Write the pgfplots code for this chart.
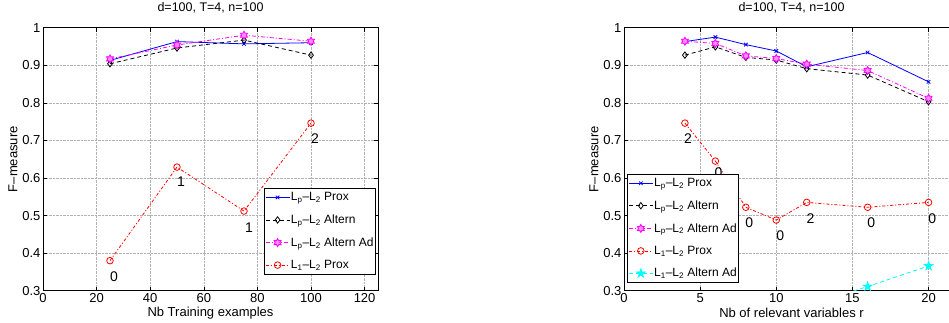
\documentclass[border=0pt]{standalone}
\usepackage{pgfplots}
\pgfplotsset{compat=1.18}
\usepackage{fontspec}
\setmainfont{Liberation Sans}
\usetikzlibrary{plotmarks}
\definecolor{mcyan}{rgb}{0,1,1}
\definecolor{mmag}{rgb}{1,0,1}
\definecolor{mblue}{rgb}{0,0,1}
\definecolor{mred}{rgb}{1,0,0}

\pgfdeclareplotmark{hexagram}{%
 \pgfpathmoveto{\pgfpointpolar{90}{\pgfplotmarksize}}%
 \pgfpathlineto{\pgfpointpolar{120}{0.577\pgfplotmarksize}}%
 \pgfpathlineto{\pgfpointpolar{150}{\pgfplotmarksize}}%
 \pgfpathlineto{\pgfpointpolar{180}{0.577\pgfplotmarksize}}%
 \pgfpathlineto{\pgfpointpolar{210}{\pgfplotmarksize}}%
 \pgfpathlineto{\pgfpointpolar{240}{0.577\pgfplotmarksize}}%
 \pgfpathlineto{\pgfpointpolar{270}{\pgfplotmarksize}}%
 \pgfpathlineto{\pgfpointpolar{300}{0.577\pgfplotmarksize}}%
 \pgfpathlineto{\pgfpointpolar{330}{\pgfplotmarksize}}%
 \pgfpathlineto{\pgfpointpolar{0}{0.577\pgfplotmarksize}}%
 \pgfpathlineto{\pgfpointpolar{30}{\pgfplotmarksize}}%
 \pgfpathlineto{\pgfpointpolar{60}{0.577\pgfplotmarksize}}%
 \pgfpathclose\pgfusepathqfillstroke}
\pgfdeclareplotmark{pentagram}{%
 \pgfpathmoveto{\pgfpointpolar{90}{\pgfplotmarksize}}%
 \pgfpathlineto{\pgfpointpolar{126}{0.382\pgfplotmarksize}}%
 \pgfpathlineto{\pgfpointpolar{162}{\pgfplotmarksize}}%
 \pgfpathlineto{\pgfpointpolar{198}{0.382\pgfplotmarksize}}%
 \pgfpathlineto{\pgfpointpolar{234}{\pgfplotmarksize}}%
 \pgfpathlineto{\pgfpointpolar{270}{0.382\pgfplotmarksize}}%
 \pgfpathlineto{\pgfpointpolar{306}{\pgfplotmarksize}}%
 \pgfpathlineto{\pgfpointpolar{342}{0.382\pgfplotmarksize}}%
 \pgfpathlineto{\pgfpointpolar{18}{\pgfplotmarksize}}%
 \pgfpathlineto{\pgfpointpolar{54}{0.382\pgfplotmarksize}}%
 \pgfpathclose\pgfusepathqfillstroke}

\pgfplotsset{
  mlab/.style={
    scale only axis, width=335pt, height=263pt,
    ymin=0.3, ymax=1, ytick={0.3,0.4,...,1.0},
    grid=major, major grid style={densely dotted, gray!60, line width=0.5pt},
    tick align=inside, major tick length=4pt,
    axis line style={line width=0.9pt},
    tick style={black, line width=0.6pt},
    /pgf/number format/assume math mode=true,
    tick label style={font=\fontsize{13}{15}\selectfont},
    yticklabel style={xshift=1pt},
    xticklabel style={yshift=1pt},
    label style={font=\fontsize{13}{15}\selectfont},
    ylabel={F--measure},
    ylabel style={at={(axis description cs:-0.09,0.5)}, anchor=center},
    xlabel style={at={(axis description cs:0.5,-0.085)}, anchor=center},
    title={d=100, T=4, n=100},
    title style={font=\fontsize{12.5}{14}\selectfont, at={(axis description cs:0.5,1)}, anchor=center, yshift=14pt},
    legend cell align=left,
    legend style={draw=black, line width=0.9pt, fill=white, font=\fontsize{12}{14}\selectfont, inner xsep=1pt, inner ysep=3pt, row sep=10.5pt,
      nodes={line width=0.6pt, inner sep=1pt}},
    legend image code/.code={\draw[mark repeat=2,mark phase=2,#1] plot coordinates {(0cm,0cm) (0.42cm,0cm) (0.84cm,0cm)};},
  },
  sprox/.style={mblue, solid, line width=0.8pt, mark=x, mark size=2.5pt, mark options={solid}},
  salt/.style={black, dash pattern=on 4pt off 3pt, line width=0.8pt, mark=diamond, mark size=3.2pt, mark options={solid}},
  salad/.style={mmag, dash pattern=on 4pt off 2pt on 1pt off 2pt, line width=0.8pt, mark=hexagram, mark size=4pt, mark options={solid, fill=mmag!45}},
  sl1/.style={mred, dash pattern=on 3pt off 2pt on 1pt off 2pt, line width=0.8pt, mark=o, mark size=3.3pt, mark options={solid}},
  sl1ad/.style={mcyan, dash pattern=on 4pt off 3pt, line width=0.8pt, mark=pentagram, mark size=4.5pt, mark options={solid, fill=mcyan}},
}

\begin{document}
\begin{tikzpicture}
\begin{axis}[mlab, at={(0pt,0pt)}, anchor=south west,
  xmin=0, xmax=125, xtick={0,20,...,120},
  xlabel={Nb Training examples},
  legend style={at={(rel axis cs:0.994,0.39)}, anchor=north east}]
\addplot[sprox] coordinates {(25,0.913) (50,0.963) (75,0.957) (100,0.960)};
\addlegendentry{L\textsubscript{p}--L\textsubscript{2} Prox}
\addplot[salt] coordinates {(25,0.904) (50,0.946) (75,0.967) (100,0.927)};
\addlegendentry{L\textsubscript{p}--L\textsubscript{2} Altern}
\addplot[salad] coordinates {(25,0.917) (50,0.954) (75,0.980) (100,0.964)};
\addlegendentry{L\textsubscript{p}--L\textsubscript{2} Altern Ad}
\addplot[sl1] coordinates {(25,0.380) (50,0.629) (75,0.512) (100,0.746)};
\addlegendentry{L\textsubscript{1}--L\textsubscript{2} Prox}
\begin{scope}[font=\fontsize{14}{16}\selectfont]
\node at (axis cs:26.5,0.337) {0};
\node at (axis cs:51.5,0.590) {1};
\node at (axis cs:76.9,0.468) {1};
\node at (axis cs:101.5,0.706) {2};
\end{scope}
\end{axis}

\begin{axis}[mlab, at={(581pt,0pt)}, anchor=south west,
  xmin=0, xmax=22, xtick={0,5,...,20},
  xlabel={Nb of relevant variables r},
  legend style={at={(rel axis cs:0.009,0.444)}, anchor=north west}]
\addplot[sprox] coordinates {(4,0.963) (6,0.975) (8,0.955) (10,0.938) (12,0.896) (16,0.934) (20,0.856)};
\addlegendentry{L\textsubscript{p}--L\textsubscript{2} Prox}
\addplot[salt] coordinates {(4,0.927) (6,0.949) (8,0.921) (10,0.914) (12,0.891) (16,0.874) (20,0.803)};
\addlegendentry{L\textsubscript{p}--L\textsubscript{2} Altern}
\addplot[salad] coordinates {(4,0.964) (6,0.958) (8,0.925) (10,0.918) (12,0.903) (16,0.886) (20,0.812)};
\addlegendentry{L\textsubscript{p}--L\textsubscript{2} Altern Ad}
\addplot[sl1] coordinates {(4,0.746) (6,0.645) (8,0.522) (10,0.488) (12,0.535) (16,0.522) (20,0.535)};
\addlegendentry{L\textsubscript{1}--L\textsubscript{2} Prox}
\addplot[sl1ad] coordinates {(12,0.26) (16,0.311) (20,0.366)};
\addlegendentry{L\textsubscript{1}--L\textsubscript{2} Altern Ad}
\begin{scope}[font=\fontsize{14}{16}\selectfont]
\node at (axis cs:4.2,0.706) {2};
\node at (axis cs:6.2,0.614) {0};
\node at (axis cs:8.23,0.482) {0};
\node at (axis cs:10.26,0.446) {0};
\node at (axis cs:12.25,0.493) {2};
\node at (axis cs:16.24,0.481) {0};
\node at (axis cs:20.24,0.493) {0};
\end{scope}
\end{axis}
\pgfresetboundingbox
\path[use as bounding box] (-43pt,-32.3pt) rectangle (906pt,290.7pt);
\end{tikzpicture}
\end{document}
